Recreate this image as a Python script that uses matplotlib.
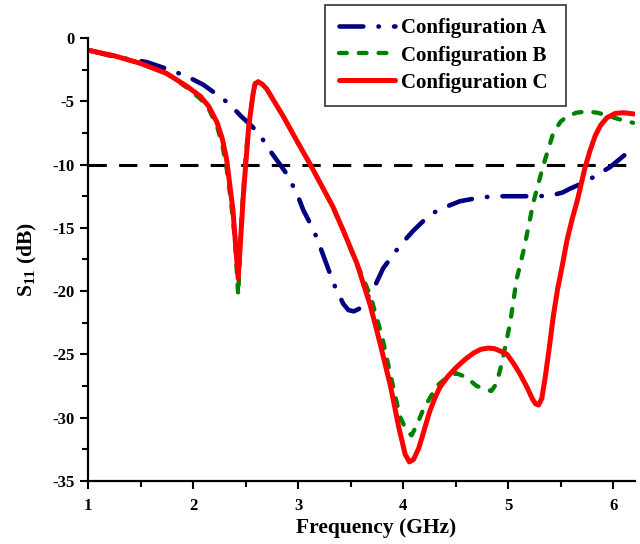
import matplotlib
matplotlib.use("Agg")
import matplotlib.pyplot as plt
from matplotlib.ticker import MultipleLocator

plt.rcParams['font.family'] = ['Liberation Serif', 'DejaVu Serif']
plt.rcParams['font.weight'] = 'bold'
plt.rcParams['mathtext.fontset'] = 'custom'
plt.rcParams['mathtext.rm'] = 'Liberation Serif:bold'
plt.rcParams['mathtext.bf'] = 'Liberation Serif:bold'

# Configuration A
freq_a = [1.0, 1.27, 1.56, 1.81, 1.96, 2.1, 2.2, 2.3, 2.38, 2.46, 2.54, 2.61, 2.68, 2.75,
          2.82, 2.88, 2.94, 2.99, 3.05, 3.15, 3.21, 3.29, 3.35, 3.43, 3.48, 3.53, 3.58,
          3.62, 3.72, 3.81, 3.97, 4.1, 4.2, 4.29, 4.42, 4.54, 4.7, 4.86,
          5.0, 5.15, 5.3, 5.43, 5.52, 5.59, 5.7, 5.81, 5.97, 6.13, 6.2]
s11_a = [-0.95, -1.5, -1.9, -2.6, -3.1, -3.7, -4.3, -4.9, -5.5, -6.2, -6.8, -7.4, -8.2, -9.1,
         -9.9, -10.6, -11.5, -12.3, -13.6, -15.2, -16.5, -18.3, -19.6, -21.0, -21.5, -21.6, -21.4,
         -21.0, -19.8, -18.2, -16.4, -15.2, -14.4, -13.8, -13.3, -12.9, -12.65, -12.5,
         -12.5, -12.5, -12.5, -12.4, -12.2, -11.9, -11.5, -11.0, -10.2, -9.1, -8.8]

# Configuration B
freq_b = [1.0, 1.25, 1.5, 1.75, 1.94, 2.07, 2.15, 2.23, 2.28, 2.32, 2.36, 2.4, 2.43, 2.46,
          2.5, 2.53, 2.57, 2.59, 2.62, 2.66, 2.7, 2.78, 2.86, 2.98, 3.11, 3.22, 3.33, 3.43,
          3.53, 3.6, 3.69, 3.8, 3.89, 3.97, 4.03, 4.08, 4.13, 4.19, 4.32, 4.42, 4.51,
          4.6, 4.7, 4.84, 4.89, 4.94, 5.02, 5.08, 5.15, 5.24, 5.33, 5.43, 5.5, 5.56, 5.65,
          5.75, 5.85, 5.94, 6.05, 6.19]
s11_b = [-0.95, -1.4, -2.0, -2.8, -3.9, -4.8, -5.6, -7.0, -8.5, -10.3, -12.8, -16.0, -20.3,
         -14.5, -9.5, -7.0, -4.5, -3.7, -3.45, -3.65, -4.0, -5.1, -6.2, -8.0, -9.9, -11.6,
         -13.3, -15.2, -17.3, -18.6, -20.4, -23.6, -27.0, -29.9, -31.0, -31.4, -30.6, -29.4,
         -27.5, -26.8, -26.5, -26.8, -27.5, -27.9, -27.3, -25.7, -22.5, -19.1, -16.7, -13.0,
         -10.2, -7.5, -6.6, -6.2, -5.9, -5.8, -5.9, -6.1, -6.4, -6.7]

# Configuration C
freq_c = [1.0, 1.25, 1.5, 1.75, 1.94, 2.07, 2.15, 2.23, 2.28, 2.32, 2.38, 2.43, 2.48, 2.53,
          2.57, 2.59, 2.62, 2.66, 2.7, 2.78, 2.86, 2.98, 3.11, 3.22, 3.33, 3.43, 3.56, 3.69,
          3.78, 3.88, 3.96, 4.02, 4.06, 4.1, 4.15, 4.2, 4.25, 4.3, 4.35, 4.43, 4.51, 4.59,
          4.67, 4.74, 4.81, 4.87, 4.93, 4.99, 5.05, 5.11, 5.18, 5.23, 5.26, 5.29, 5.32,
          5.35, 5.39, 5.43, 5.47, 5.52, 5.56, 5.61, 5.66, 5.73, 5.78, 5.83, 5.88, 5.94,
          6.02, 6.1, 6.2]
s11_c = [-0.95, -1.4, -2.0, -2.8, -3.8, -4.6, -5.4, -6.7, -8.0, -9.6, -13.6, -19.0, -12.3,
         -7.0, -4.5, -3.6, -3.45, -3.65, -4.0, -5.1, -6.2, -8.0, -9.9, -11.6, -13.3, -15.2,
         -17.8, -21.2, -24.1, -27.5, -30.8, -32.9, -33.5, -33.3, -32.4, -31.0, -29.6, -28.5,
         -27.6, -26.7, -26.0, -25.4, -24.9, -24.6, -24.5, -24.55, -24.75, -25.0, -25.7,
         -26.5, -27.6, -28.5, -28.9, -29.0, -28.5, -27.0, -24.6, -22.0, -19.9, -17.8, -16.0,
         -14.3, -12.8, -10.3, -8.9, -7.7, -6.9, -6.3, -5.95, -5.9, -6.0]

threshold = -10
x_ticks = [1, 2, 3, 4, 5, 6]
y_ticks = [0, -5, -10, -15, -20, -25, -30, -35]

fig = plt.figure(figsize=(6.4, 5.44), dpi=100)
ax = fig.add_axes([0.1375, 0.116, 0.855, 0.814])

ax.axhline(threshold, color='black', lw=2.2, ls=(0, (6, 4)))
ax.plot(freq_a, s11_a, color='#000080', lw=3.3, ls=(0, (5.2, 3.3, 0.1, 3.3)),
        dash_capstyle='round', solid_joinstyle='round', label='Configuration A ')
ax.plot(freq_b, s11_b, color='#008000', lw=3.1, ls=(0, (1.8, 2.8)),
        dash_capstyle='round', label='Configuration B ')
ax.plot(freq_c, s11_c, color='#FF0000', lw=3.6, ls='-', solid_capstyle='round',
        solid_joinstyle='round', label='Configuration C ')

ax.set_xlim(1, 6.21)
ax.set_ylim(-35, 0)
ax.set_xticks(x_ticks)
ax.set_yticks(y_ticks)
ax.set_xticklabels([str(t) for t in x_ticks])
ax.set_yticklabels([str(t) for t in y_ticks])
ax.xaxis.set_minor_locator(MultipleLocator(0.5))
ax.yaxis.set_minor_locator(MultipleLocator(2.5))
ax.tick_params(which='major', direction='out', length=6, width=1.5, labelsize=12)
ax.tick_params(axis='x', which='major', pad=6)
ax.tick_params(which='minor', direction='out', length=4, width=1.5)
for lab in ax.get_xticklabels() + ax.get_yticklabels():
    lab.set_fontweight('bold')

for s in ['top', 'right']:
    ax.spines[s].set_visible(False)
for s in ['left', 'bottom']:
    ax.spines[s].set_linewidth(1.6)

ax.set_xlabel('Frequency (GHz)', fontsize=15.5, fontweight='bold', labelpad=3, x=0.527)
ax.set_ylabel(r'S$_{11}$ (dB)', fontsize=15.5, fontweight='bold', labelpad=10)

leg = fig.legend(loc='upper right', bbox_to_anchor=(0.885, 0.991), fontsize=15,
                 frameon=True, fancybox=False, handlelength=2.7, borderpad=0.65,
                 labelspacing=0.34, handletextpad=0.3, borderaxespad=0)
leg.get_frame().set_edgecolor('black')
leg.get_frame().set_linewidth(1.2)
for t in leg.get_texts():
    t.set_fontweight('bold')

fig.savefig('out.png', dpi=100)
